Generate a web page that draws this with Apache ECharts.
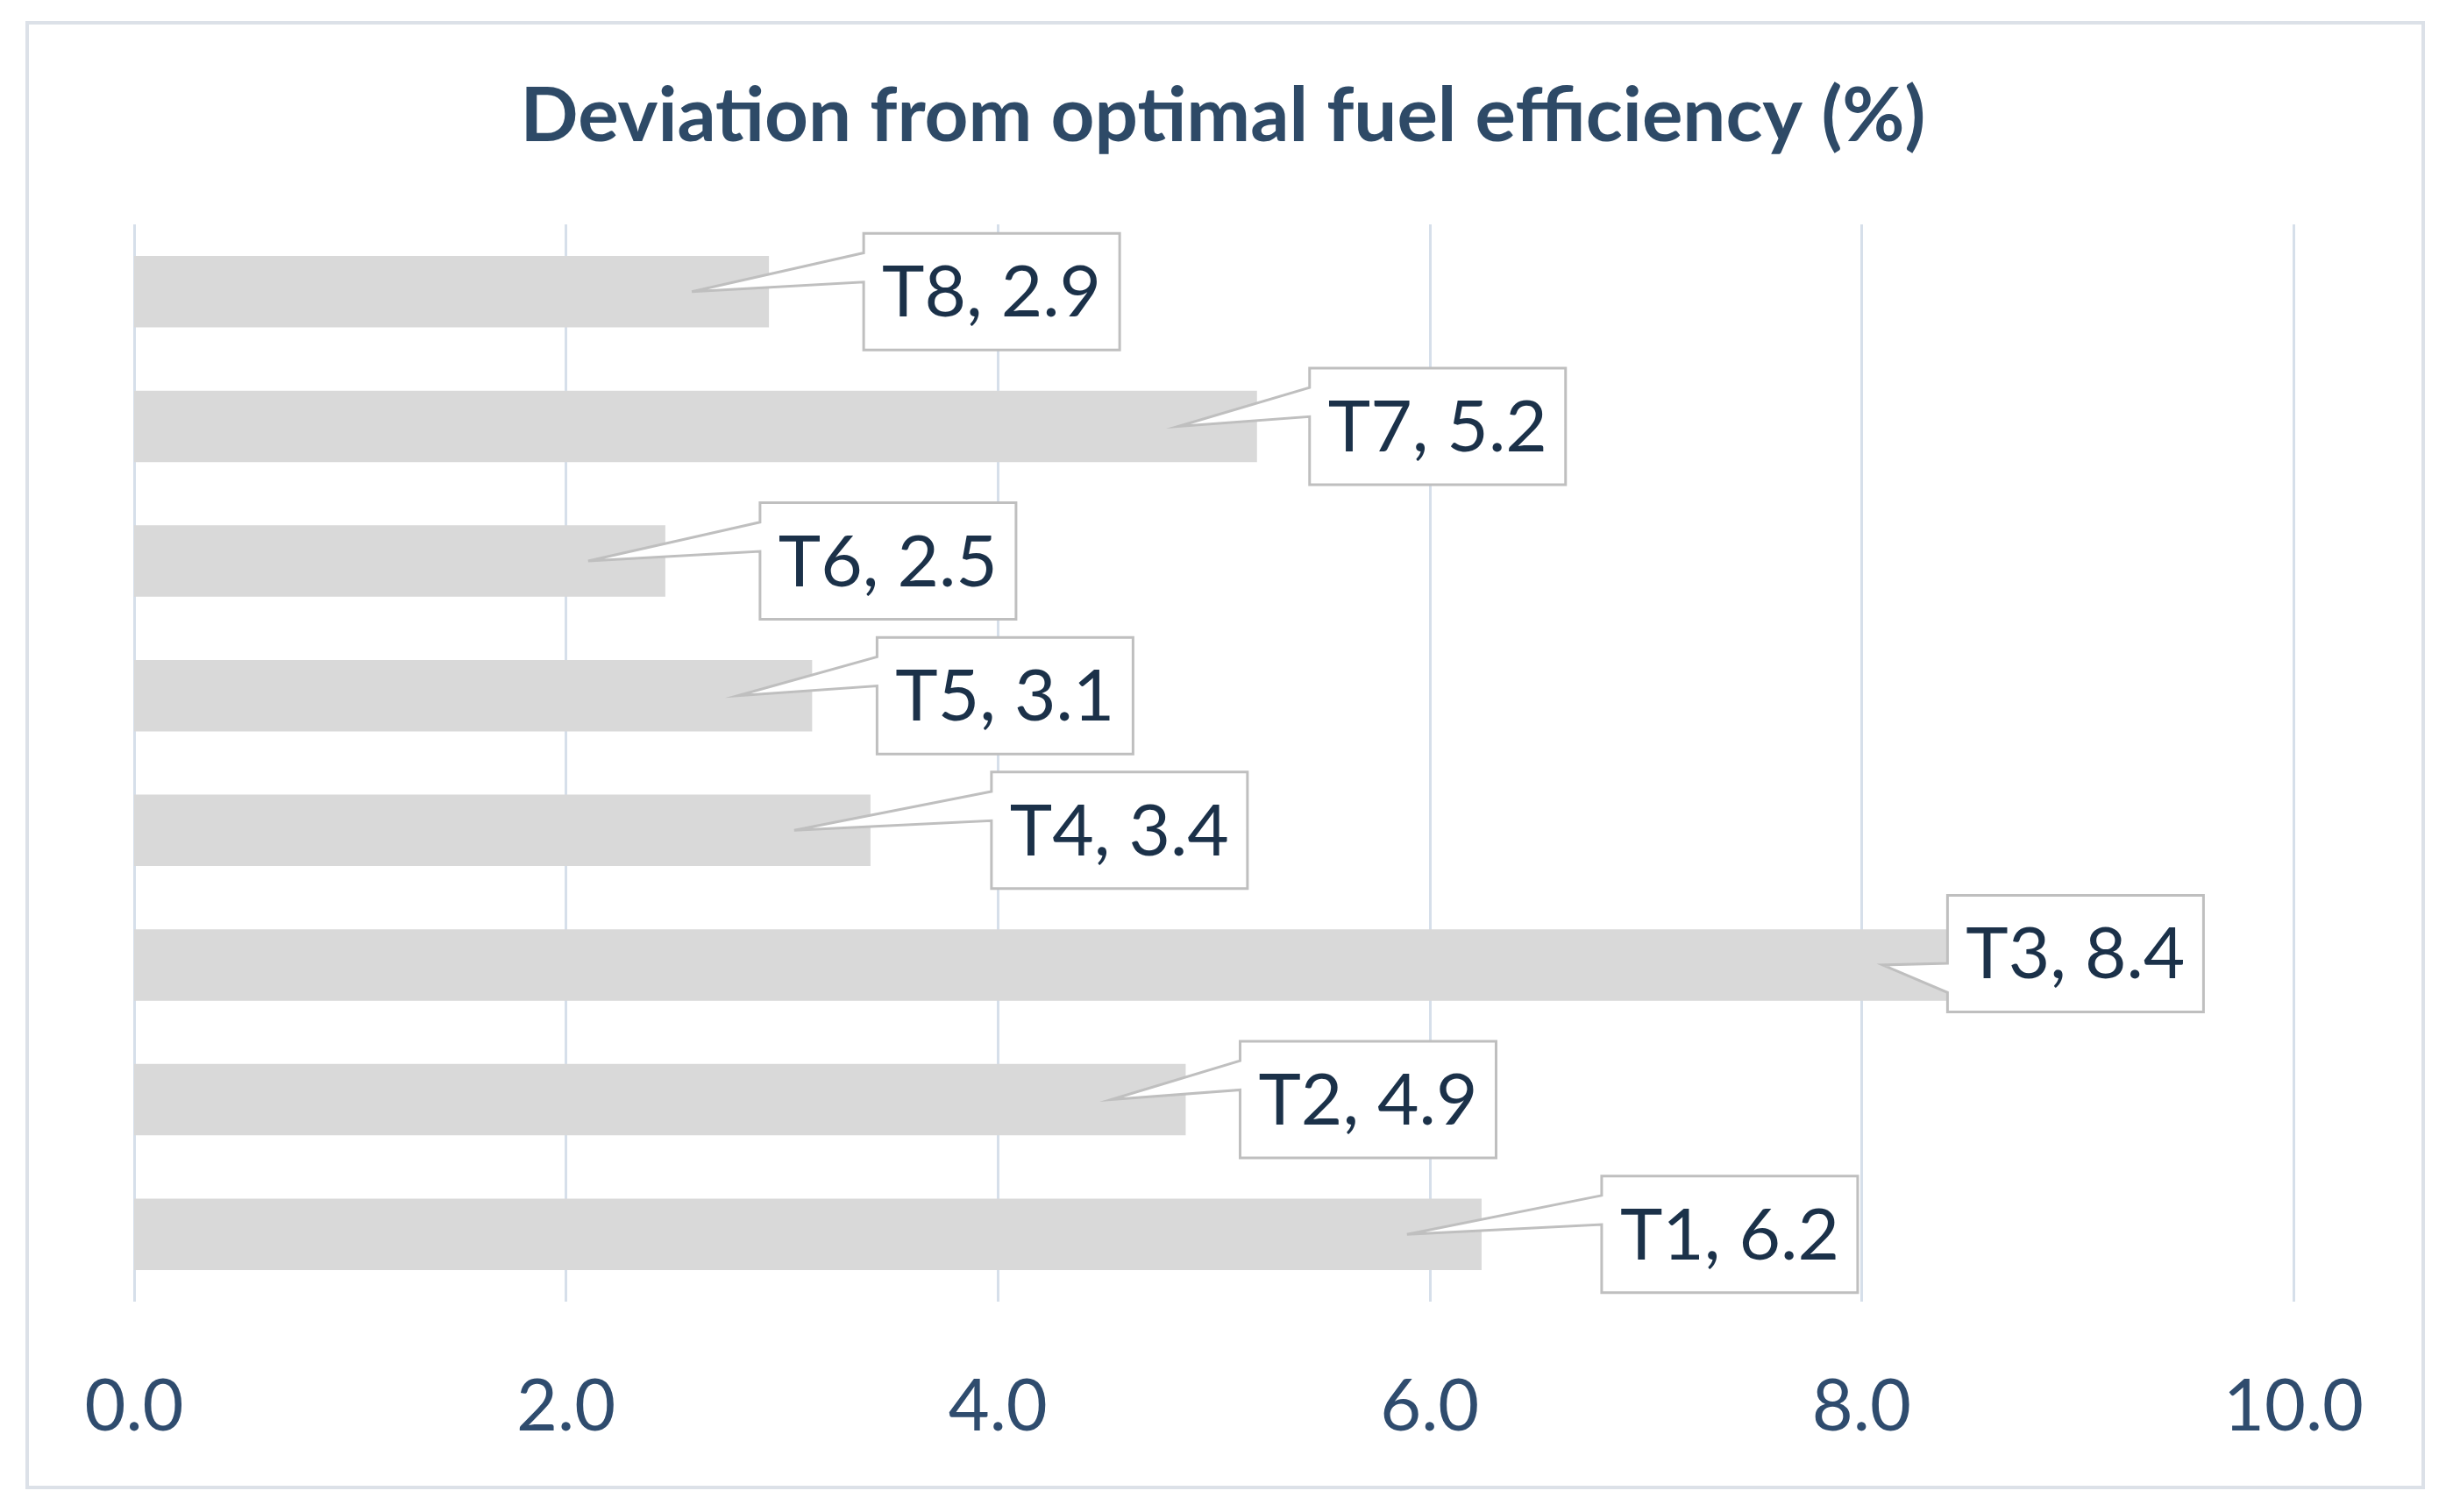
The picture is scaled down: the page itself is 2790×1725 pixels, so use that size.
<!DOCTYPE html>
<html><head><meta charset="utf-8">
<script src="https://cdn.jsdelivr.net/npm/echarts@6/dist/echarts.min.js"></script>
<style>html,body{margin:0;padding:0;background:#fff}#c{width:2790px;height:1725px}</style>
</head><body><div id="c"></div>
<script>
const titleText = 'Deviation from optimal fuel efficiency (%)';
const categories = ['T1', 'T2', 'T3', 'T4', 'T5', 'T6', 'T7', 'T8'];
const deviation = [6.24, 4.87, 8.41, 3.41, 3.14, 2.46, 5.20, 2.94];
const xTicks = [0, 2, 4, 6, 8, 10];

// callout layout (pixels, relative to the bar end)
const calloutGap = [137, 62, -3, 138, 74, 108, 60, 108];
const calloutDy = [0, 0, -13, 0, 0, 0, 0, 0];
const tipBack = [85, 85, 77, 87, 85, 88, 90, 88];

const BOX_W = 292, BOX_H = 133;
const chart = echarts.init(document.getElementById('c'), null, {renderer: 'canvas'});

const option = {
  backgroundColor: '#ffffff',
  animation: false,
  title: {
    text: titleText, left: 'center', top: 84,
    textStyle: {fontFamily: 'Lato', fontWeight: 'bold', fontSize: 87, color: '#2E4A67'}
  },
  grid: {left: 153, right: 174, top: 256, bottom: 240, containLabel: false},
  xAxis: {
    type: 'value', min: xTicks[0], max: xTicks[xTicks.length - 1], interval: xTicks[1] - xTicks[0],
    axisLine: {show: false}, axisTick: {show: false},
    splitLine: {show: true, lineStyle: {color: '#D6DFEA', width: 3}},
    axisLabel: {
      formatter: v => v.toFixed(1), fontFamily: 'Lato', fontSize: 81, color: '#2F4C6E',
      margin: 121, verticalAlign: 'middle'
    }
  },
  yAxis: {
    type: 'category', data: categories,
    axisLine: {show: false}, axisTick: {show: false}, axisLabel: {show: false}, splitLine: {show: false}
  },
  graphic: [{
    type: 'rect', silent: true, z: -10,
    shape: {x: 31, y: 26, width: 2733, height: 1671},
    style: {fill: 'none', stroke: '#DCE1E8', lineWidth: 4}
  }],
  series: [
    {
      type: 'bar', data: deviation, barCategoryGap: '47%',
      itemStyle: {color: '#D9D9D9'}, z: 2
    },
    {
      type: 'custom', z: 5,
      encode: {x: 0, y: 1},
      data: deviation.map((v, i) => [v, i]),
      renderItem: function (params, api) {
        const i = api.value(1);
        const v = api.value(0);
        const end = api.coord([v, i]);
        const tipX = end[0] - tipBack[i], tipY = end[1];
        const L = end[0] + calloutGap[i];
        const cy = end[1] + calloutDy[i];
        const T = cy - BOX_H / 2, B = cy + BOX_H / 2, R = L + BOX_W;
        let a1, a2;
        if (tipY > cy + 1) { a1 = T + BOX_H * 7 / 12; a2 = T + BOX_H * 10 / 12; }
        else { a1 = T + BOX_H * 2 / 12; a2 = T + BOX_H * 5 / 12; }
        const pts = [[L, T], [R, T], [R, B], [L, B], [L, a2], [tipX, tipY], [L, a1]];
        return {
          type: 'group', children: [
            {type: 'polygon', shape: {points: pts},
             style: {fill: '#ffffff', stroke: '#BFBFBF', lineWidth: 3, lineJoin: 'miter'}},
            {type: 'text', style: {
              text: categories[i] + ', ' + v.toFixed(1), x: (L + R) / 2, y: cy + 2,
              align: 'center', verticalAlign: 'middle',
              fontFamily: 'Lato', fontSize: 82, fill: '#1B3149'
            }}
          ]
        };
      }
    }
  ]
};
chart.setOption(option);
</script>
</body></html>
